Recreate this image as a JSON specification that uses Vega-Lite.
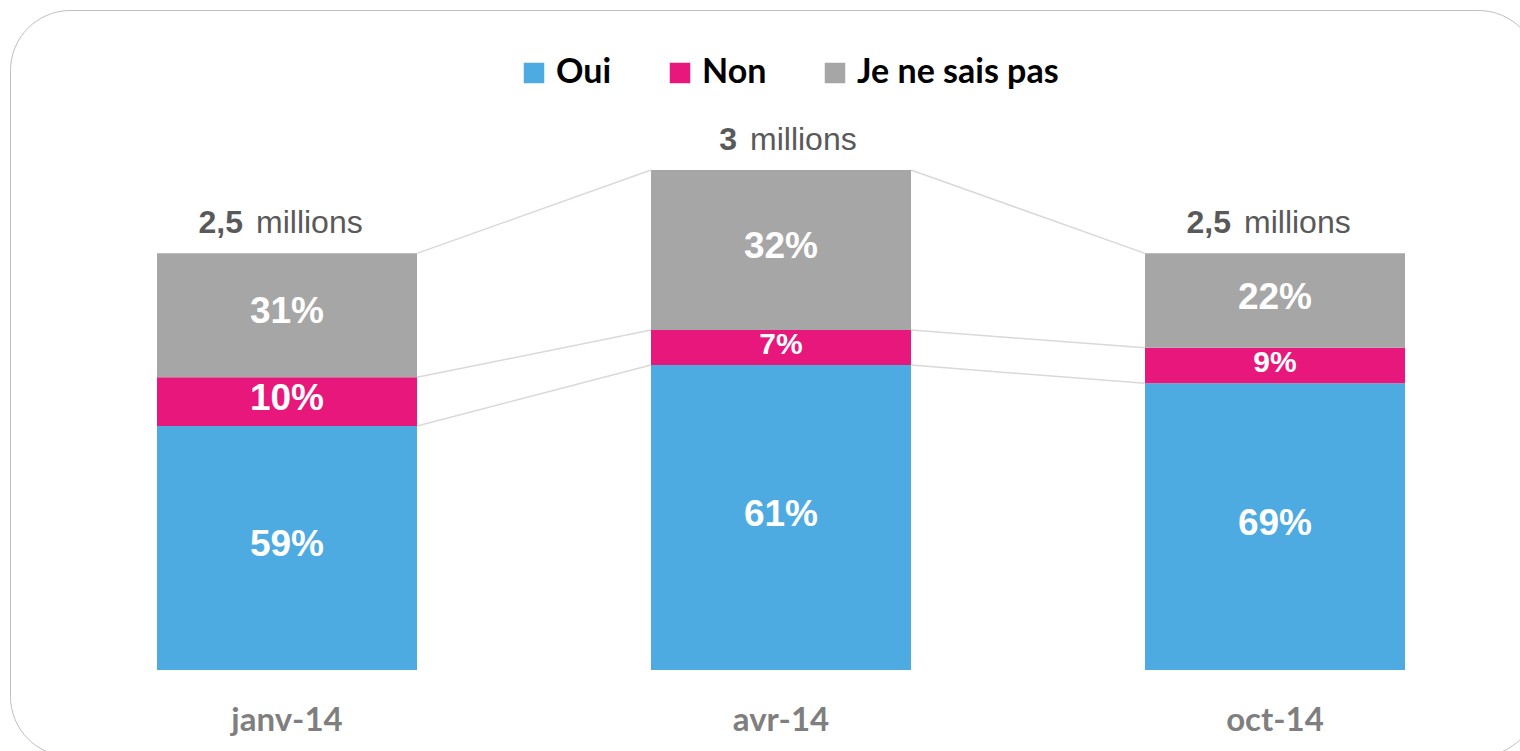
{
  "$schema": "https://vega.github.io/schema/vega-lite/v6.json",
  "autosize": "none",
  "width": 1528,
  "height": 746,
  "padding": {"left": 10, "top": 10, "right": 0, "bottom": 0},
  "background": "#ffffff",
  "config": {
    "view": {"stroke": "#BFBFBF", "strokeWidth": 1, "cornerRadius": 60},
    "font": "Liberation Sans",
    "axisX": {"orient": "bottom", "offset": -36, "domain": false, "ticks": false, "grid": false, "labelPadding": 0, "labelBaseline": "middle", "labelFont": "Lato", "labelFontSize": 33, "labelFontWeight": "bold", "labelColor": "#7F7F7F", "labelAngle": 0, "title": null}
  },
  "datasets": {
    "bars": [
      {"month": "janv-14", "cat": "Oui", "pct": 59, "v": 1.464},
      {"month": "janv-14", "cat": "Non", "pct": 10, "v": 0.292},
      {"month": "janv-14", "cat": "Je ne sais pas", "pct": 31, "v": 0.744},
      {"month": "avr-14", "cat": "Oui", "pct": 61, "v": 1.83},
      {"month": "avr-14", "cat": "Non", "pct": 7, "v": 0.21},
      {"month": "avr-14", "cat": "Je ne sais pas", "pct": 32, "v": 0.96},
      {"month": "oct-14", "cat": "Oui", "pct": 69, "v": 1.72},
      {"month": "oct-14", "cat": "Non", "pct": 9, "v": 0.213},
      {"month": "oct-14", "cat": "Je ne sais pas", "pct": 22, "v": 0.567}
    ],
    "totals": [
      {"month": "janv-14", "total": 2.5, "num": "2,5"},
      {"month": "avr-14", "total": 3.0, "num": "3"},
      {"month": "oct-14", "total": 2.5, "num": "2,5"}
    ],
    "links": [
      {"from": "janv-14", "to": "avr-14", "a": 1.464, "b": 1.83},
      {"from": "janv-14", "to": "avr-14", "a": 1.756, "b": 2.04},
      {"from": "janv-14", "to": "avr-14", "a": 2.5, "b": 3.0},
      {"from": "avr-14", "to": "oct-14", "a": 1.83, "b": 1.72},
      {"from": "avr-14", "to": "oct-14", "a": 2.04, "b": 1.933},
      {"from": "avr-14", "to": "oct-14", "a": 3.0, "b": 2.5}
    ]
  },
  "layer": [
    {
      "data": {"name": "links"},
      "mark": {"type": "rule", "color": "#D9D9D9", "strokeWidth": 1.5, "xOffset": 130, "x2Offset": -130},
      "encoding": {
        "x": {"field": "from", "type": "nominal", "sort": null, "title": null, "scale": {"domain": ["janv-14", "avr-14", "oct-14"], "range": [30, 1512], "paddingInner": 0, "paddingOuter": 0}},
        "x2": {"field": "to"},
        "y": {"field": "a", "type": "quantitative", "scale": {"domain": [-0.516, 3.96], "nice": false, "zero": false}, "axis": null},
        "y2": {"field": "b"}
      }
    },
    {
      "data": {"name": "bars"},
      "transform": [
        {"calculate": "indexof(['Oui','Non','Je ne sais pas'], datum.cat)", "as": "ord"},
        {"stack": "v", "groupby": ["month"], "sort": [{"field": "ord", "order": "ascending"}], "as": ["v0", "v1"]},
        {"calculate": "(datum.v0 + datum.v1) / 2", "as": "vm"},
        {"calculate": "datum.pct + '%'", "as": "lab"}
      ],
      "layer": [
        {
          "mark": {"type": "bar", "width": 260},
          "encoding": {
            "x": {"field": "month", "type": "nominal", "sort": null, "title": null},
            "y": {"field": "v1", "type": "quantitative", "axis": null},
            "y2": {"field": "v0"},
            "color": {"field": "cat", "type": "nominal",
              "scale": {"domain": ["Oui", "Non", "Je ne sais pas"], "range": ["#4DABE2", "#E8177C", "#A6A6A6"]},
              "legend": {"title": null, "orient": "none", "legendX": 507, "legendY": 46, "direction": "horizontal", "padding": 0,
                "symbolType": "square", "symbolSize": 420, "symbolStrokeWidth": 0, "symbolOpacity": 1,
                "labelFont": "Lato", "labelFontSize": 34, "labelFontWeight": "bold", "labelColor": "#000000", "labelOffset": 5, "labelLimit": 400, "columnPadding": 51}}
          }
        },
        {
          "mark": {"type": "text", "font": "Liberation Sans", "fontWeight": "bold", "color": "#FFFFFF", "baseline": "middle", "align": "center", "dy": -3},
          "encoding": {
            "x": {"field": "month", "type": "nominal", "sort": null, "title": null},
            "y": {"field": "vm", "type": "quantitative", "axis": null},
            "text": {"field": "lab"},
            "size": {"condition": {"test": "datum.pct < 10", "value": 30}, "value": 37}
          }
        }
      ]
    },
    {
      "data": {"name": "totals"},
      "mark": {"type": "text", "align": "right", "baseline": "alphabetic", "dx": -44, "dy": -20, "font": "Liberation Sans", "fontSize": 32, "fontWeight": "bold", "color": "#595959"},
      "encoding": {
        "x": {"field": "month", "type": "nominal", "sort": null, "title": null},
        "y": {"field": "total", "type": "quantitative", "axis": null},
        "text": {"field": "num"}
      }
    },
    {
      "data": {"name": "totals"},
      "mark": {"type": "text", "align": "left", "baseline": "alphabetic", "dx": -31, "dy": -20, "font": "Liberation Sans", "fontSize": 32, "color": "#595959"},
      "encoding": {
        "x": {"field": "month", "type": "nominal", "sort": null, "title": null},
        "y": {"field": "total", "type": "quantitative", "axis": null},
        "text": {"value": "millions"}
      }
    }
  ]
}
